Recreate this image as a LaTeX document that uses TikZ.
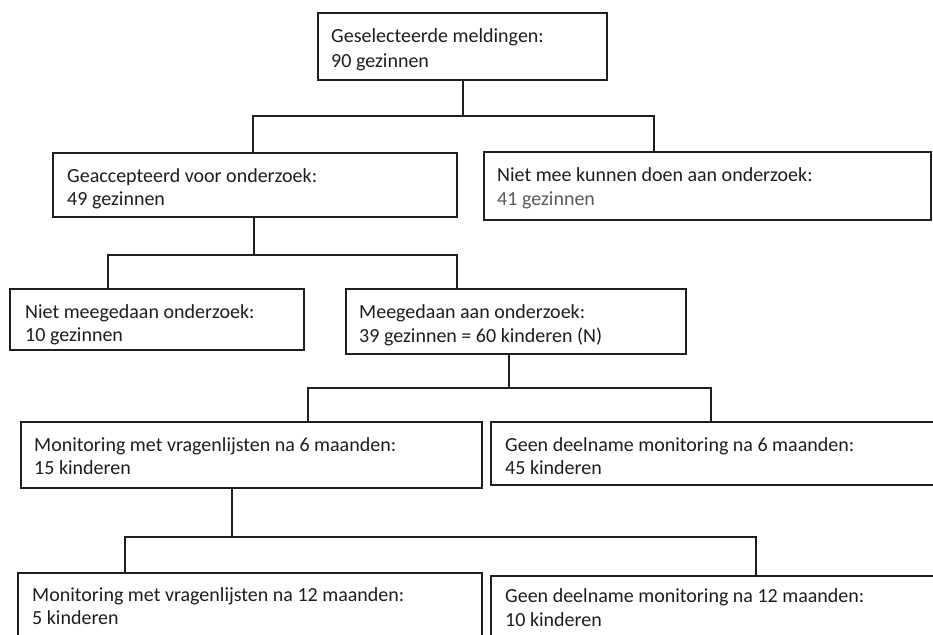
\documentclass[tikz,border=0pt]{standalone}
\usepackage{fontspec}
\setmainfont{Carlito}
\definecolor{txtgray}{RGB}{90,90,90}
\definecolor{ink}{RGB}{30,30,30}
\begin{document}
\begin{tikzpicture}[x=1pt,y=-1pt,
  box/.style={draw=ink, line width=1.6pt, inner sep=0pt, anchor=north west},
  txt/.style={anchor=base west, inner sep=0pt, text=ink, font=\fontsize{20}{24}\selectfont},
  link/.style={draw=ink, line width=1.6pt}]
\useasboundingbox (0,0) rectangle (933,634);
\fill[white] (0,0) rectangle (933,634);
\clip (0,0) rectangle (933,634);
% boxes
\node[box, minimum width=289pt, minimum height=67pt] (A) at (317,12) {};
\node[box, minimum width=404pt, minimum height=64pt] (B) at (52,152) {};
\node[box, minimum width=447pt, minimum height=68pt] (C) at (483,151) {};
\node[box, minimum width=294pt, minimum height=61pt] (D) at (9,288) {};
\node[box, minimum width=340pt, minimum height=65pt] (E) at (345,288) {};
\node[box, minimum width=461pt, minimum height=66pt] (F) at (20,421) {};
\node[box, minimum width=460pt, minimum height=63pt] (G) at (490,421) {};
\node[box, minimum width=464pt, minimum height=80pt] (H) at (17,572) {};
\node[box, minimum width=460pt, minimum height=80pt] (I) at (490,575) {};
% texts
\node[txt] (A1) at (331,43) {Geselecteerde meldingen:};
\node[txt] (A2) at (331,67) {90 gezinnen};
\node[txt] (B1) at (67,182) {Geaccepteerd voor onderzoek:};
\node[txt] (B2) at (67,205) {49 gezinnen};
\node[txt] (C1) at (497,181) {Niet mee kunnen doen aan onderzoek:};
\node[txt, text=txtgray] (C2) at (497,205) {41 gezinnen};
\node[txt] (D1) at (25,318) {Niet meegedaan onderzoek:};
\node[txt] (D2) at (25,341) {10 gezinnen};
\node[txt] (E1) at (359,318) {Meegedaan aan onderzoek:};
\node[txt] (E2) at (359,342) {39 gezinnen = 60 kinderen (N)};
\node[txt] (F1) at (34,451) {Monitoring met vragenlijsten na 6 maanden:};
\node[txt] (F2) at (34,474) {15 kinderen};
\node[txt] (G1) at (505,451) {Geen deelname monitoring na 6 maanden:};
\node[txt] (G2) at (505,474) {45 kinderen};
\node[txt] (H1) at (32,601) {Monitoring met vragenlijsten na 12 maanden:};
\node[txt] (H2) at (32,624) {5 kinderen};
\node[txt] (I1) at (505,602) {Geen deelname monitoring na 12 maanden:};
\node[txt] (I2) at (505,626) {10 kinderen};
% junction coordinates
\coordinate (a1) at (463,116);
\coordinate (a1L) at (253,116);
\coordinate (a1R) at (654,116);
\coordinate (b1) at (254,255);
\coordinate (b1L) at (108,255);
\coordinate (b1R) at (457,255);
\coordinate (e1) at (509,388);
\coordinate (e1L) at (308,388);
\coordinate (e1R) at (711,388);
\coordinate (f1) at (232,537);
\coordinate (f1L) at (125,537);
\coordinate (f1R) at (756,537);
% connectors
\draw[link] (A.south -| a1) -- (a1);
\draw[link] (B.north -| a1L) -- (a1L) -- (a1R) -- (C.north -| a1R);
\draw[link] (B.south -| b1) -- (b1);
\draw[link] (D.north -| b1L) -- (b1L) -- (b1R) -- (E.north -| b1R);
\draw[link] (E.south -| e1) -- (e1);
\draw[link] (F.north -| e1L) -- (e1L) -- (e1R) -- (G.north -| e1R);
\draw[link] (F.south -| f1) -- (f1);
\draw[link] (H.north -| f1L) -- (f1L) -- (f1R) -- (I.north -| f1R);
\end{tikzpicture}
\end{document}
